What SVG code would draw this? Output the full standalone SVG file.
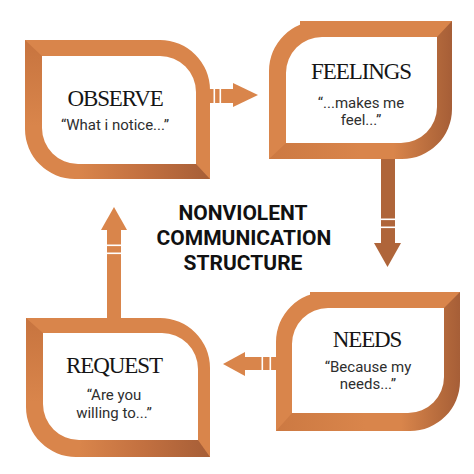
<svg xmlns="http://www.w3.org/2000/svg" width="474" height="474" viewBox="0 0 474 474">
<defs>
<style>
.frame{fill:#D9854B;fill-rule:evenodd}
.title{font-family:"Liberation Serif",serif;font-size:23px;fill:#151515;text-anchor:middle;letter-spacing:-1.1px}
.sub{font-family:Roboto,"Liberation Sans",sans-serif;font-size:15px;fill:#2e2e2e;text-anchor:middle}
.center{font-family:Roboto,"Liberation Sans",sans-serif;font-size:21px;font-weight:bold;fill:#111;text-anchor:middle}
.arr{fill:#D9854B}
.arrDark{fill:#AF653A}
.gap{fill:#ffffff}
</style>
<linearGradient id="gBottom" x1="0" y1="0" x2="1" y2="0">
<stop offset="0" stop-color="#D9854B"/>
<stop offset="0.5" stop-color="#C27040"/>
<stop offset="1" stop-color="#A65E37"/>
</linearGradient>
<linearGradient id="gLeft" x1="0" y1="0" x2="0" y2="1">
<stop offset="0" stop-color="#C7743F"/>
<stop offset="1" stop-color="#D9854B"/>
</linearGradient>
<linearGradient id="gRight" x1="0" y1="0" x2="1" y2="0">
<stop offset="0" stop-color="#D9854B"/>
<stop offset="0.68" stop-color="#D9854B"/>
<stop offset="0.9" stop-color="#B56A3C"/>
<stop offset="1" stop-color="#A65E37"/>
</linearGradient>
<linearGradient id="gBotLight" x1="0" y1="0" x2="1" y2="0">
<stop offset="0" stop-color="#CC7942"/>
<stop offset="1" stop-color="#D9854B"/>
</linearGradient>
</defs>
<rect width="474" height="474" fill="#ffffff"/>

<g id="connectors">
<g id="arrow-observe-feelings">
<rect class="arr" x="205" y="89" width="30" height="14"/>
<polygon class="arr" points="233,83 258,95 233,107"/>
<rect class="gap" x="213.5" y="88" width="1.6" height="16"/>
<rect class="gap" x="219.5" y="88" width="1.6" height="16"/>
</g>
<g id="arrow-feelings-needs">
<rect class="arrDark" x="381" y="155" width="14" height="90"/>
<polygon class="arrDark" points="374,243 401,243 387.5,267"/>
<rect class="gap" x="380" y="218.5" width="16" height="1.6"/>
<rect class="gap" x="380" y="226.5" width="16" height="1.6"/>
</g>
<g id="arrow-needs-request">
<rect class="arr" x="243" y="357" width="37" height="13"/>
<polygon class="arr" points="245,352 245,376 223,364"/>
<rect class="gap" x="261.5" y="356" width="1.6" height="15"/>
<rect class="gap" x="269.5" y="356" width="1.6" height="15"/>
</g>
<g id="arrow-request-observe">
<rect class="arr" x="107" y="228" width="14" height="94"/>
<polygon class="arr" points="101,230 127,230 114,207"/>
<rect class="gap" x="106" y="244.5" width="16" height="1.6"/>
<rect class="gap" x="106" y="252.5" width="16" height="1.6"/>
</g>
</g>

<g id="node-observe">
<path class="frame" d="M25,40 H160 A50,50 0 0 1 210,90 V179 H75 A50,50 0 0 1 25,129 Z M42,56 H160 A36,36 0 0 1 196,92 V164 H78 A36,36 0 0 1 42,128 Z"/>
<polygon points="25,40 42,56 42,126 25,126" fill="url(#gLeft)"/>
<polygon points="80,164 196,164 210,179 78,179" fill="url(#gBottom)"/>
<text class="title" x="115" y="106">OBSERVE</text>
<text class="sub" x="115" y="130">“What i notice...”</text>
</g>

<g id="node-feelings">
<path class="frame" style="fill:url(#gRight)" d="M319,21 H452 V109 A50,50 0 0 1 402,159 H269 V71 A50,50 0 0 1 319,21 Z M322,37 H437 V107 A36,36 0 0 1 401,143 H286 V73 A36,36 0 0 1 322,37 Z"/>
<polygon points="300,21 452,21 437,37 300,37" fill="#D9854B"/>
<polygon points="269,159 286,143 360,143 360,159" fill="url(#gBotLight)"/>
<text class="title" x="361" y="79">FEELINGS</text>
<text class="sub" x="361" y="108">“...makes me</text>
<text class="sub" x="361" y="125">feel...”</text>
</g>

<g id="node-needs">
<path class="frame" style="fill:url(#gRight)" d="M326,292 H460 V381 A50,50 0 0 1 410,431 H276 V342 A50,50 0 0 1 326,292 Z M328,308 H444 V377 A36,36 0 0 1 408,413 H292 V344 A36,36 0 0 1 328,308 Z"/>
<polygon points="310,292 460,292 444,308 310,308" fill="#D9854B"/>
<polygon points="276,431 292,413 365,413 365,431" fill="url(#gBotLight)"/>
<text class="title" x="367" y="347">NEEDS</text>
<text class="sub" x="368" y="372">“Because my</text>
<text class="sub" x="368" y="389">needs...”</text>
</g>

<g id="node-request">
<path class="frame" d="M26,318 H160 A50,50 0 0 1 210,368 V457 H76 A50,50 0 0 1 26,407 Z M43,333 H162 A36,36 0 0 1 198,369 V440 H79 A36,36 0 0 1 43,404 Z"/>
<polygon points="26,318 43,333 43,402 26,402" fill="url(#gLeft)"/>
<polygon points="81,440 198,440 210,457 79,457" fill="url(#gBottom)"/>
<text class="title" x="114" y="373">REQUEST</text>
<text class="sub" x="114" y="400">“Are you</text>
<text class="sub" x="114" y="418">willing to...”</text>
</g>

<g id="title">
<text class="center" x="243" y="220">NONVIOLENT</text>
<text class="center" x="244" y="245">COMMUNICATION</text>
<text class="center" x="243" y="270">STRUCTURE</text>
</g>
</svg>
